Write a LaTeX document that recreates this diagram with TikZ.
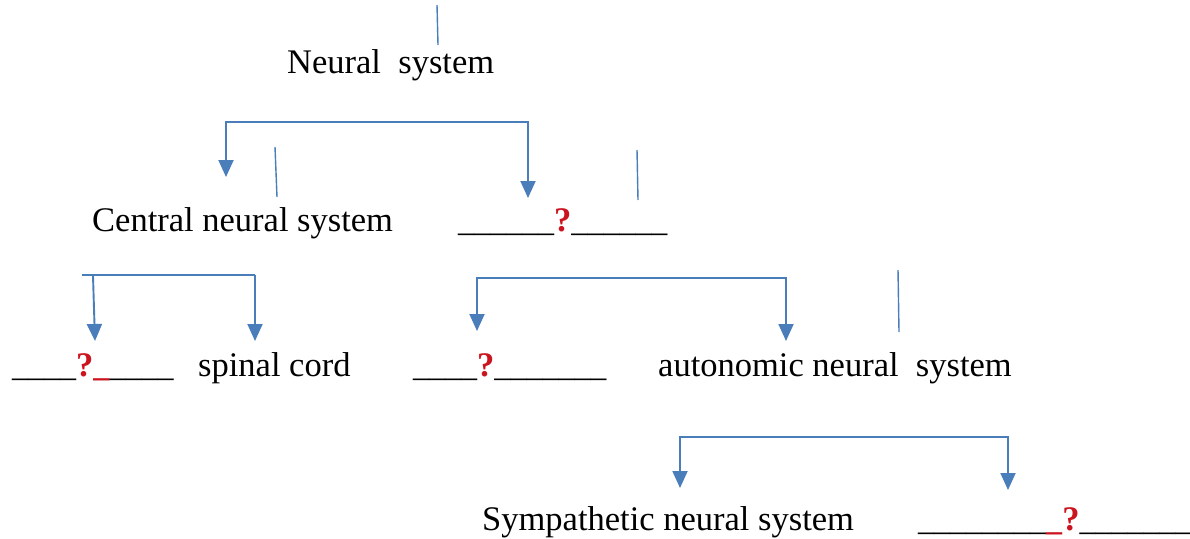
\documentclass[tikz,border=0pt]{standalone}
\usepackage{fontspec}
\setmainfont{Liberation Serif}
\usetikzlibrary{arrows.meta}
\definecolor{lblue}{RGB}{74,126,187}
\definecolor{qred}{RGB}{204,20,30}
\newcommand\qm{\textcolor{qred}{\textbf{?}}}
\newcommand\ru{\textcolor{qred}{\textbf{\_}}}
\newcommand\bk[1]{{\fontsize{32}{38}\selectfont #1}}
\tikzset{
  txt/.style={font=\fontsize{34.5}{40}\selectfont, inner sep=0pt, anchor=base west},
  link/.style={draw=lblue, line width=1.9pt},
  tip/.tip={Triangle[width=15pt,length=17pt]},
  tipped/.style={link, tip-tip},
  onetip/.style={link, -tip},
  stray/.style={draw=lblue, line width=1.4pt}
}
\begin{document}
\begin{tikzpicture}[x=1pt,y=-1pt]
\fill[white] (0,0) rectangle (1190,538);
\useasboundingbox (0,0) rectangle (1190,538);

% text nodes
\node[txt] (neural) at (287,73) {Neural\ \ system};
\node[txt] (cns) at (92,231) {Central neural system};
\node[txt] (pns) at (458,231) {\bk{\_\_\_\_\_\_}\qm\bk{\_\_\_\_\_\_}};
\node[txt] (brain) at (12,376) {\bk{\_\_\_\_}\qm\bk{\ru\_\_\_\_}};
\node[txt] (spinal) at (198,376) {spinal cord};
\node[txt] (somatic) at (413,376) {\bk{\_\_\_\_}\qm\bk{\_\_\_\_\_\_\_}};
\node[txt] (auto) at (658,376) {autonomic neural\ \ system};
\node[txt] (symp) at (482,530) {Sympathetic neural system};
\node[txt] (para) at (918,530) {\bk{\_\_\_\_\_\_\_\_\ru}\qm\bk{\_\_\_\_\_\_\_}};

% bracket 1
\coordinate (b1l) at (226,177);
\coordinate (b1lc) at (226,122);
\coordinate (b1rc) at (528,122);
\coordinate (b1r) at (528,198);
\draw[tipped] (b1l) -- (b1lc) -- (b1rc) -- (b1r);

% bracket 2
\coordinate (b2a) at (82,275);
\coordinate (b2b) at (255,275);
\coordinate (b2c) at (93,276);
\coordinate (b2l) at (95,341);
\coordinate (b2r) at (255,341);
\draw[link] (b2a) -- (b2b);
\draw[onetip] (b2c) -- (b2l);
\draw[onetip] (b2b) -- (b2r);

% bracket 3
\coordinate (b3l) at (477,331);
\coordinate (b3lc) at (477,278);
\coordinate (b3rc) at (786,278);
\coordinate (b3r) at (786,341);
\draw[tipped] (b3l) -- (b3lc) -- (b3rc) -- (b3r);

% bracket 4
\coordinate (b4l) at (680,488);
\coordinate (b4lc) at (680,437);
\coordinate (b4rc) at (1008,437);
\coordinate (b4r) at (1008,490);
\draw[tipped] (b4l) -- (b4lc) -- (b4rc) -- (b4r);

% stray strokes
\coordinate (s1a) at (437,5);   \coordinate (s1b) at (438,45);
\coordinate (s2a) at (275,147); \coordinate (s2b) at (277,197);
\coordinate (s3a) at (637,150); \coordinate (s3b) at (638,200);
\coordinate (s4a) at (898,270); \coordinate (s4b) at (899,332);
\draw[stray] (s1a) -- (s1b);
\draw[stray] (s2a) -- (s2b);
\draw[stray] (s3a) -- (s3b);
\draw[stray] (s4a) -- (s4b);
\end{tikzpicture}
\end{document}
